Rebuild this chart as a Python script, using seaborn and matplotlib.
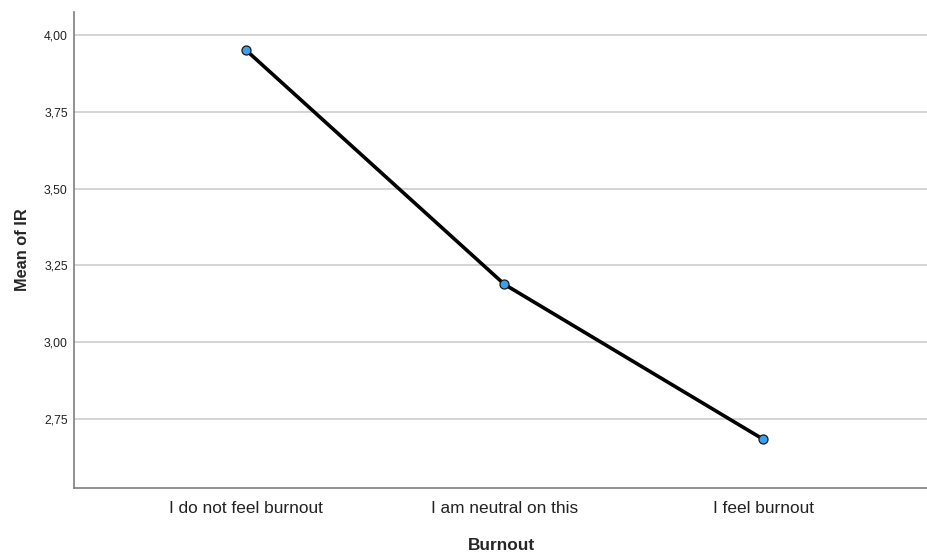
import matplotlib
matplotlib.use("Agg")
import matplotlib.pyplot as plt
import seaborn as sns
import pandas as pd
from matplotlib.ticker import FixedLocator, FuncFormatter

categories = ["I do not feel burnout", "I am neutral on this", "I feel burnout"]
means = [3.951, 3.188, 2.684]
yticks = [2.75, 3.00, 3.25, 3.50, 3.75, 4.00]

df = pd.DataFrame({"Burnout": categories, "Mean of IR": means})

sns.set_style("white")
plt.rcParams['font.family'] = ['Liberation Sans', 'DejaVu Sans']

fig = plt.figure(figsize=(9.28, 5.52), dpi=100)
ax = fig.add_axes([74/928, 1-488/552, 1-74/928, (488-12)/552])

for y in yticks:
    ax.axhline(y, color="#d4d4d4", lw=1.4, zorder=0)

sns.lineplot(data=df, x="Burnout", y="Mean of IR", ax=ax, color="black",
             lw=2.6, marker="o", markersize=6.5, markerfacecolor="#3aa0f0",
             markeredgecolor="#1a1a1a", markeredgewidth=0.9, sort=False)

ax.set_xlim(-0.665, 2.638)
ax.set_ylim(2.525, 4.075)
ax.yaxis.set_major_locator(FixedLocator(yticks))
ax.yaxis.set_major_formatter(FuncFormatter(lambda v, p: f"{v:.2f}".replace(".", ",")))
ax.tick_params(axis="y", labelsize=8.8, length=0, pad=4.5, colors="#222222")
ax.tick_params(axis="x", labelsize=12.4, length=0, pad=9.5, colors="#222222")
for s in ["top", "right"]:
    ax.spines[s].set_visible(False)
for s in ["left", "bottom"]:
    ax.spines[s].set_color("#7f7f7f")
    ax.spines[s].set_linewidth(1.2)

ax.set_xlabel("Burnout", fontsize=12.4, fontweight="bold", labelpad=15.5)
ax.set_ylabel("Mean of IR", fontsize=11.8, fontweight="bold", labelpad=10)

fig.savefig("out.png", dpi=100)
